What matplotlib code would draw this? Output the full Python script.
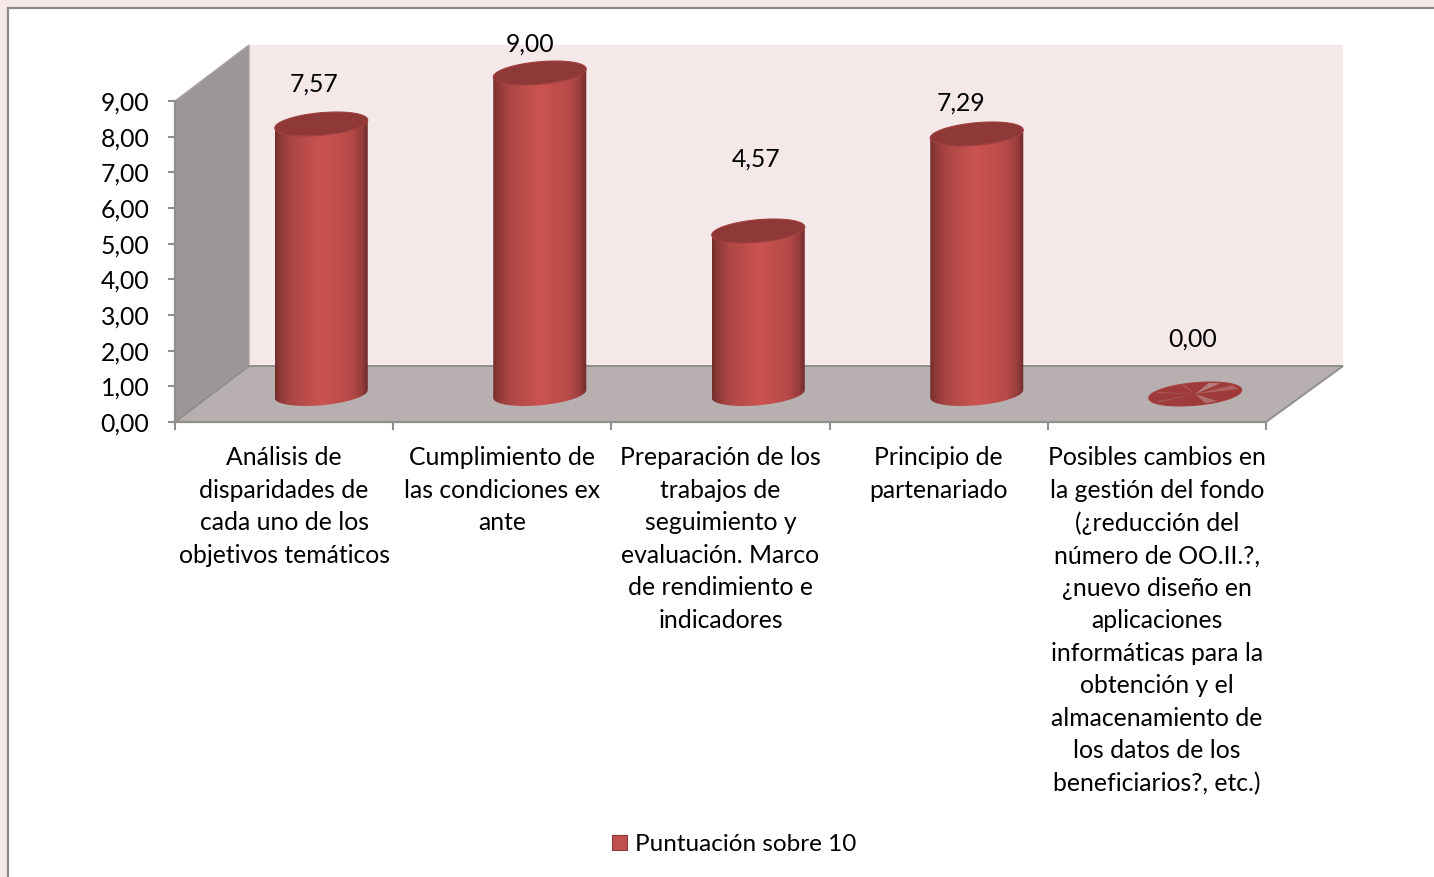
import numpy as np
import matplotlib
matplotlib.use("Agg")
import matplotlib.pyplot as plt
from matplotlib.colors import LinearSegmentedColormap
from matplotlib.patches import Polygon, Rectangle, Patch, PathPatch
from matplotlib.path import Path
from matplotlib.ticker import FuncFormatter

# ---- data ----
categories = [
    "Análisis de\ndisparidades de\ncada uno de los\nobjetivos temáticos",
    "Cumplimiento de\nlas condiciones ex\nante",
    "Preparación de los\ntrabajos de\nseguimiento y\nevaluación. Marco\nde rendimiento e\nindicadores",
    "Principio de\npartenariado",
    "Posibles cambios en\nla gestión del fondo\n(¿reducción del\nnúmero de OO.II.?,\n¿nuevo diseño en\naplicaciones\ninformáticas para la\nobtención y el\nalmacenamiento de\nlos datos de los\nbeneficiarios?, etc.)",
]
values = [7.57, 9.00, 4.57, 7.29, 0.00]
series_name = "Puntuación sobre 10"
y_ticks = [0, 1, 2, 3, 4, 5, 6, 7, 8, 9]

# ---- style ----
W, H = 1434, 877
FONT = "Lato"
FS = 17.8
plt.rcParams["font.family"] = [FONT, "DejaVu Sans"]
label_offsets_px = [(-7, 40), (-10, 29), (-2, 72), (-16, 31), (-3, 55)]

fig = plt.figure(figsize=(W / 100, H / 100), dpi=100, facecolor="#F7E9E8")
fig.add_artist(Rectangle((8 / W, -0.05), 1.05, 1.05 - 8 / H, transform=fig.transFigure,
                         facecolor="white", edgecolor="#8A8A86", lw=1.6, zorder=-5))
ax = fig.add_axes([175 / W, 1 - 422 / H, (1266 - 175) / W, (422 - 101) / H])
ax.patch.set_alpha(0)
ax.set_xlim(-0.5, 4.5)
ax.set_ylim(0, 9)
ax.autoscale(False)

ux = (1266 - 175) / 5.0        # px per category
uy = (422 - 101) / 9.0         # px per y unit


def proj(x, y, d):
    """Oblique projection: depth d in 0..1 shifts a data point up and right."""
    x = np.asarray(x, float)
    shift = 74 + (x + 0.5) / 5.0 * 3
    return x + d * shift / ux, np.asarray(y, float) + d * 56 / uy


def poly(pts, **kw):
    xy = np.array([proj(*p) for p in pts])
    p = Polygon(xy, closed=True, clip_on=False, **kw)
    ax.add_patch(p)
    return p


# walls and floor
poly([(-.5, 0, 1), (4.5, 0, 1), (4.5, 9, 1), (-.5, 9, 1)], facecolor="#F4E8E8", edgecolor="none", zorder=1)
poly([(-.5, 0, 0), (-.5, 0, 1), (-.5, 9, 1), (-.5, 9, 0)], facecolor="#9C9696", edgecolor="#A8A4A2", lw=1, zorder=1.1)
poly([(-.5, 0, 0), (4.5, 0, 0), (4.5, 0, 1), (-.5, 0, 1)], facecolor="#B8B0B0", edgecolor="#8F8F8B", lw=1.4, zorder=1.2)

# cylinders
cmap = LinearSegmentedColormap.from_list("cyl", [
    (0.00, "#732D2C"), (0.05, "#8C3837"), (0.18, "#AC4745"), (0.50, "#CC5351"),
    (0.82, "#B64A48"), (0.94, "#963C3B"), (1.00, "#6C2A29")])
grad = np.linspace(0, 1, 256).reshape(1, -1)
R_PX, TILT_PX, B_PX = 46.5, 4.0, 11.3
t = np.linspace(0, 2 * np.pi, 121)
ex = R_PX / ux * np.cos(t)
ey = (TILT_PX * np.cos(t) + B_PX * np.sin(t)) / uy

for i, v in enumerate(values):
    cx, cy0 = proj(i, 0, 0.5)
    cx, cy1 = proj(i, v, 0.5)
    if v > 0:
        lower = t >= np.pi
        order = np.argsort(ex[lower])
        bx, by = ex[lower][order], ey[lower][order]
        top_x = bx[::-1]
        top_y = np.interp(top_x, bx, by)
        # upper limit of the body follows the near side of the top ellipse
        xs = np.r_[cx + bx, cx + top_x]
        ys = np.r_[cy0 + by, cy1 + top_y]
        body = PathPatch(Path(np.c_[xs, ys]), facecolor="none", edgecolor="none",
                         transform=ax.transData, clip_on=False)
        ax.add_patch(body)
        im = ax.imshow(grad, cmap=cmap, aspect="auto", interpolation="bilinear", zorder=3,
                       extent=(cx - R_PX / ux, cx + R_PX / ux, cy0 - 0.6, cy1 + 0.6))
        im.set_clip_path(body)
        im.set_clip_box(fig.bbox)
        ax.add_patch(Polygon(np.c_[cx + ex, cy1 + ey], closed=True, facecolor="#8E3837",
                             edgecolor="#A03F3E", lw=0.8, clip_on=False, zorder=4))
    else:
        ax.add_patch(Polygon(np.c_[cx + ex, cy1 + ey], closed=True, facecolor="#9E3A3A",
                             edgecolor="#A83D3D", lw=0.8, clip_on=False, zorder=4))
        for a0, a1, col in [(0.95, 1.25, "#B87E7E"), (0.1, 0.55, "#AE5F5F"), (3.55, 3.7, "#AA5656"),
                            (4.95, 5.25, "#B06C6C"), (2.6, 2.75, "#AA5252"), (1.8, 1.9, "#AA5252")]:
            a = np.linspace(a0, a1, 12)
            wx = np.r_[0, R_PX * 0.92 / ux * np.cos(a)]
            wy = np.r_[0, (TILT_PX * np.cos(a) + B_PX * np.sin(a)) * 0.92 / uy]
            ax.add_patch(Polygon(np.c_[cx + wx, cy1 + wy], closed=True, facecolor=col,
                                 edgecolor="none", clip_on=False, zorder=4.1))
    ax.annotate(f"{v:.2f}".replace(".", ","), (cx, cy1), xytext=label_offsets_px[i],
                textcoords="offset pixels",
                ha="center", va="center", fontsize=FS, color="black", zorder=6, annotation_clip=False)

ax.set_xlim(-0.5, 4.5)
ax.set_ylim(0, 9)

# axes
for s in ("top", "right"):
    ax.spines[s].set_visible(False)
for s in ("left", "bottom"):
    ax.spines[s].set_color("#8F8F8B")
    ax.spines[s].set_linewidth(1.6)
    ax.spines[s].set_zorder(2)
ax.set_yticks(y_ticks)
ax.yaxis.set_major_formatter(FuncFormatter(lambda v, _: f"{v:.2f}".replace(".", ",")))
ax.tick_params(axis="y", length=5, width=1.5, color="#8F8F8B", pad=13.5, labelsize=FS, labelcolor="black")
ax.set_xticks(np.arange(-0.5, 5, 1))
ax.set_xticklabels([])
ax.set_xticks(range(5), categories, minor=True)
ax.tick_params(axis="x", which="major", length=6, width=1.5, color="#8F8F8B")
ax.tick_params(axis="x", which="minor", length=0, pad=17.3, labelsize=FS)
for lab in ax.get_xticklabels(minor=True):
    lab.set_linespacing(1.5)
    lab.set_ha("center")
    lab.set_va("top")

# legend
h = Patch(facecolor="#C0504D", edgecolor="#8E3837", lw=0.8, label=series_name)
fig.legend(handles=[h], loc="center", bbox_to_anchor=(734 / W, 1 - 844.5 / H), frameon=False,
           fontsize=17.5, handlelength=0.62, handleheight=0.62, handletextpad=0.35)

fig.savefig("out.png", dpi=100, facecolor=fig.get_facecolor())
